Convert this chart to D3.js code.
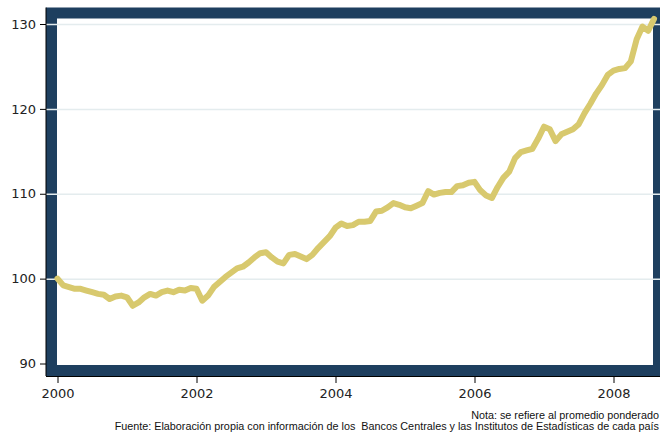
<!DOCTYPE html>
<html>
<head>
<meta charset="utf-8">
<script src="https://cdn.jsdelivr.net/npm/d3@7"></script>
<style>
  body { margin: 0; background: #fff; }
  svg { display: block; }
  .note { white-space: pre; }
</style>
</head>
<body>
<div id="chart"></div>
<script>
// monthly index, Jan 2000 - Aug 2008
var startYear = 2000;
var values = [
  100.0, 99.2, 99.0, 98.8, 98.8, 98.6, 98.4, 98.2, 98.1, 97.6, 97.9, 98.0,
  97.8, 96.8, 97.2, 97.8, 98.2, 98.0, 98.4, 98.6, 98.4, 98.7, 98.6, 98.9,
  98.8, 97.4, 98.0, 99.0, 99.6, 100.2, 100.7, 101.2, 101.4, 101.9, 102.5, 103.0,
  103.1, 102.5, 102.0, 101.8, 102.8, 102.9, 102.6, 102.3, 102.8, 103.6, 104.3, 105.0,
  106.0, 106.5, 106.2, 106.3, 106.7, 106.7, 106.8, 107.9, 108.0, 108.4, 108.9, 108.7,
  108.4, 108.3, 108.6, 108.9, 110.3, 109.9, 110.1, 110.2, 110.2, 110.9, 111.0, 111.3,
  111.4, 110.4, 109.8, 109.5, 110.8, 111.9, 112.6, 114.2, 114.9, 115.1, 115.3, 116.5,
  117.9, 117.6, 116.2, 117.0, 117.3, 117.6, 118.2, 119.5, 120.6, 121.8, 122.8, 124.0,
  124.5, 124.7, 124.8, 125.6, 128.2, 129.7, 129.2, 130.6
];
var xTicks = [2000, 2002, 2004, 2006, 2008];
var yTicks = [90, 100, 110, 120, 130];
var notes = [
  "Nota: se refiere al promedio ponderado",
  "Fuente: Elaboración propia con información de los  Bancos Centrales y las Institutos de Estadísticas de cada país"
];

var width = 660, height = 433;

// outer plot region (dark band) and inner white area
var outer = {left: 46, top: 7.5, right: 664, bottom: 376};
var band = 11;

var data = values.map(function(v, i) {
  return {t: startYear + i / 12, v: v};
});

var x = d3.scaleLinear().domain([2000, 2008]).range([57.5, 613.5]);
var y = d3.scaleLinear().domain([90, 130]).range([363.5, 24]);

var svg = d3.select("#chart").append("svg")
    .attr("width", width)
    .attr("height", height);

// dark frame
svg.append("rect")
    .attr("x", outer.left)
    .attr("y", outer.top)
    .attr("width", outer.right - outer.left)
    .attr("height", outer.bottom - outer.top)
    .attr("fill", "#1e3f5f");

svg.append("rect")
    .attr("x", outer.left + band)
    .attr("y", outer.top + band)
    .attr("width", 653 - outer.left - band)
    .attr("height", outer.bottom - outer.top - 2 * band)
    .attr("fill", "#ffffff");

// gridlines
svg.append("g")
  .selectAll("line")
  .data(yTicks.slice(1))
  .join("line")
    .attr("x1", outer.left)
    .attr("x2", width)
    .attr("y1", function(d) { return y(d) + 0.5; })
    .attr("y2", function(d) { return y(d) + 0.5; })
    .attr("stroke", "#e4ecee")
    .attr("stroke-width", 1.5);

// the line
var valueline = d3.line()
    .x(function(d) { return x(d.t); })
    .y(function(d) { return y(d.v); });

svg.append("path")
    .datum(data)
    .attr("d", valueline)
    .attr("fill", "none")
    .attr("stroke", "#d8c96e")
    .attr("stroke-width", 6)
    .attr("stroke-linejoin", "round")
    .attr("stroke-linecap", "round");

// axes
var yAxis = svg.append("g")
    .attr("transform", "translate(" + outer.left + ",0)")
    .call(d3.axisLeft(y).tickValues(yTicks).tickSize(6).tickSizeOuter(0).tickPadding(4));
yAxis.select(".domain").remove();
yAxis.selectAll("text")
    .attr("font-family", "DejaVu Sans, Verdana, sans-serif")
    .attr("font-size", 13)
    .attr("fill", "#222");
yAxis.append("line")
    .attr("x1", 0).attr("x2", 0)
    .attr("y1", outer.top).attr("y2", outer.bottom)
    .attr("stroke", "#000");

var xAxis = svg.append("g")
    .attr("transform", "translate(0," + outer.bottom + ")")
    .call(d3.axisBottom(x).tickValues(xTicks).tickFormat(d3.format("d")).tickSize(7).tickSizeOuter(0).tickPadding(6));
xAxis.select(".domain").remove();
xAxis.selectAll("text")
    .attr("font-family", "DejaVu Sans, Verdana, sans-serif")
    .attr("font-size", 13)
    .attr("fill", "#222");
xAxis.append("line")
    .attr("x1", outer.left).attr("x2", width)
    .attr("y1", 0.5).attr("y2", 0.5)
    .attr("stroke", "#000");

// source notes
svg.append("g")
  .selectAll("text")
  .data(notes)
  .join("text")
    .attr("class", "note")
    .attr("x", 659)
    .attr("y", function(d, i) { return 419 + i * 11; })
    .attr("text-anchor", "end")
    .attr("font-family", "Liberation Sans, Arial, sans-serif")
    .attr("font-size", 10.8)
    .attr("fill", "#111")
    .text(function(d) { return d; });
</script>
</body>
</html>
